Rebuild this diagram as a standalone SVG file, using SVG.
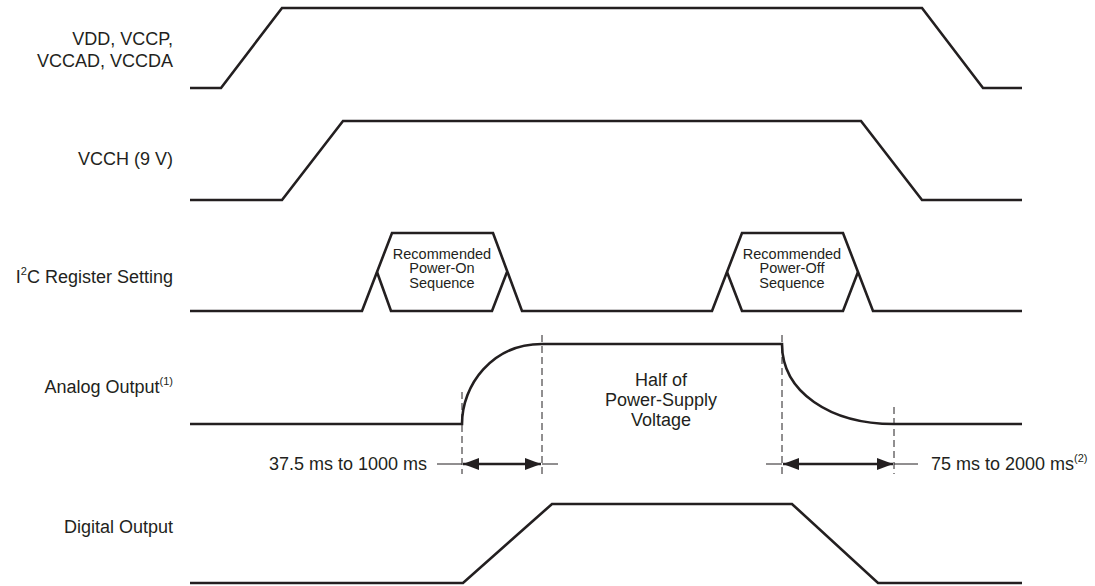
<svg xmlns="http://www.w3.org/2000/svg" width="1095" height="586" viewBox="0 0 1095 586">
<style>
.sig{fill:none;stroke:#231f20;stroke-width:2.6;stroke-linejoin:miter}
.dash{fill:none;stroke:#231f20;stroke-width:1;stroke-dasharray:7,4}
.thin{fill:none;stroke:#231f20;stroke-width:1}
.lbl{font-family:"Liberation Sans",Arial,sans-serif;font-size:18px;fill:#231f20}
.sm{font-family:"Liberation Sans",Arial,sans-serif;font-size:14.5px;fill:#231f20}
.sup{font-size:11px}
</style>
<defs>
<marker id="ah" viewBox="0 0 16 12" refX="16" refY="6" markerWidth="16" markerHeight="12" markerUnits="userSpaceOnUse" orient="auto-start-reverse">
<path d="M0,0 L16,6 L0,12 Z" fill="#231f20"/>
</marker>
</defs>
<g id="labels">
<text class="lbl" x="173" y="45" text-anchor="end">VDD, VCCP,</text>
<text class="lbl" x="173" y="67" text-anchor="end">VCCAD, VCCDA</text>
<text class="lbl" x="173" y="165" text-anchor="end">VCCH (9 V)</text>
<text class="lbl" x="173" y="283" text-anchor="end">I<tspan class="sup" dy="-8">2</tspan><tspan dy="8">C Register Setting</tspan></text>
<text class="lbl" x="173" y="393" text-anchor="end">Analog Output<tspan class="sup" dy="-8">(1)</tspan></text>
<text class="lbl" x="173" y="533" text-anchor="end">Digital Output</text>
</g>
<g id="vdd">
<polyline class="sig" points="190,88 221,88 282,8 922,8 983,88 1022,88"/>
</g>
<g id="vcch">
<polyline class="sig" points="190,200 282,200 343,121 861,121 922,200 1022,200"/>
</g>
<g id="i2c">
<polyline class="sig" points="190,311 362,311 392,233 493,233 522,311 712,311 742,233 843,233 873,311 1022,311"/>
<polyline class="sig" points="377,272 391,311 492,311 507,272"/>
<polyline class="sig" points="727,272 742,311 843,311 858,272"/>
<text class="sm" x="442" y="259" text-anchor="middle">Recommended</text>
<text class="sm" x="442" y="273" text-anchor="middle">Power-On</text>
<text class="sm" x="442" y="288" text-anchor="middle">Sequence</text>
<text class="sm" x="792" y="259" text-anchor="middle">Recommended</text>
<text class="sm" x="792" y="273" text-anchor="middle">Power-Off</text>
<text class="sm" x="792" y="288" text-anchor="middle">Sequence</text>
</g>
<g id="analog">
<path class="sig" d="M190,424 L462,424 C462,385 492,344 542,344 L782,344 C782,392 830,424 894,424 L1022,424"/>
<text class="lbl" x="661" y="386" text-anchor="middle">Half of</text>
<text class="lbl" x="661" y="406" text-anchor="middle">Power-Supply</text>
<text class="lbl" x="661" y="426" text-anchor="middle">Voltage</text>
</g>
<g id="digital">
<polyline class="sig" points="190,583 463,583 552,504 792,504 878,583 1022,583"/>
</g>
<g id="connectors">
<line class="dash" x1="462" y1="392" x2="462" y2="474"/>
<line class="dash" x1="542" y1="335" x2="542" y2="474"/>
<line class="dash" x1="782" y1="335" x2="782" y2="474"/>
<line class="dash" x1="894" y1="407" x2="894" y2="474"/>
<line class="thin" x1="437" y1="464" x2="462" y2="464"/>
<line class="thin" x1="542" y1="464" x2="558" y2="464"/>
<line class="thin" x1="766" y1="464" x2="782" y2="464"/>
<line class="thin" x1="894" y1="464" x2="918" y2="464"/>
<line class="sig" x1="463" y1="464" x2="541" y2="464" marker-start="url(#ah)" marker-end="url(#ah)"/>
<line class="sig" x1="783" y1="464" x2="893" y2="464" marker-start="url(#ah)" marker-end="url(#ah)"/>
<text class="lbl" x="427" y="470" text-anchor="end">37.5 ms to 1000 ms</text>
<text class="lbl" x="931" y="470">75 ms to 2000 ms<tspan class="sup" dy="-8">(2)</tspan></text>
</g>
</svg>
